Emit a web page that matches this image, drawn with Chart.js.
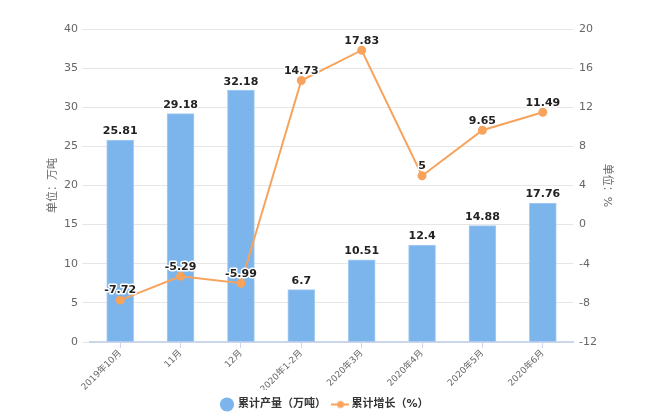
<!DOCTYPE html>
<html>
<head>
<meta charset="utf-8">
<script src="https://cdn.jsdelivr.net/npm/chart.js@4"></script>
<style>
  body { margin: 0; background: #fff; }
  #wrap { width: 650px; height: 420px; }
</style>
</head>
<body>
<div id="wrap"><canvas id="chart" width="650" height="420"></canvas></div>
<script>
const categories = ['2019年10月', '11月', '12月', '2020年1-2月', '2020年3月', '2020年4月', '2020年5月', '2020年6月'];
const output = [25.81, 29.18, 32.18, 6.7, 10.51, 12.4, 14.88, 17.76];
const growth = [-7.72, -5.29, -5.99, 14.73, 17.83, 5, 9.65, 11.49];

const FONT = 'DejaVu Sans, "Noto Sans CJK SC", sans-serif';

// legend icon for the line series: short line with a dot
function lineIcon() {
    const c = document.createElement('canvas');
    c.width = 18; c.height = 10;
    const g = c.getContext('2d');
    g.strokeStyle = '#f7a35c';
    g.lineWidth = 2;
    g.beginPath(); g.moveTo(0, 5); g.lineTo(18, 5); g.stroke();
    g.fillStyle = '#f7a35c';
    g.beginPath(); g.arc(9, 5, 3.5, 0, Math.PI * 2); g.fill();
    return c;
}
const legendLine = lineIcon();

const valueLabels = {
    id: 'valueLabels',
    afterDatasetsDraw(chart) {
        const ctx = chart.ctx;
        ctx.save();
        ctx.font = 'bold 11px ' + FONT;
        ctx.textAlign = 'center';
        ctx.textBaseline = 'bottom';
        ctx.lineJoin = 'round';
        chart.data.datasets.forEach((ds, i) => {
            const meta = chart.getDatasetMeta(i);
            meta.data.forEach((el, j) => {
                const txt = String(ds.data[j]);
                const y = el.y - (ds.type === 'line' ? 4 : 3);
                ctx.strokeStyle = '#fff';
                ctx.lineWidth = 3;
                ctx.strokeText(txt, el.x, y);
                ctx.fillStyle = '#222';
                ctx.fillText(txt, el.x, y);
            });
        });
        ctx.restore();
    }
};

new Chart(document.getElementById('chart'), {
    data: {
        labels: categories,
        datasets: [{
            type: 'bar',
            label: '累计产量（万吨）',
            data: output,
            yAxisID: 'y',
            backgroundColor: '#7cb5ec',
            borderColor: '#a9cef2',
            borderWidth: 1,
            barThickness: 27,
            order: 2
        }, {
            type: 'line',
            label: '累计增长（%）',
            data: growth,
            yAxisID: 'y1',
            borderColor: '#f7a35c',
            backgroundColor: '#f7a35c',
            borderWidth: 2,
            pointStyle: 'circle',
            pointRadius: 3.5,
            pointHoverRadius: 3.5,
            tension: 0,
            order: 1
        }]
    },
    options: {
        responsive: false,
        animation: false,
        layout: { padding: { top: 29, bottom: 0 } },
        scales: {
            x: {
                offset: true,
                grid: { drawOnChartArea: false, offset: false, tickLength: 6, color: '#ccd6eb' },
                border: { color: '#ccd6eb', width: 2 },
                ticks: { color: '#666', font: { size: 9, family: FONT }, maxRotation: 45, minRotation: 45, padding: 0 },
                afterFit: s => { s.height = 48; }
            },
            y: {
                position: 'left',
                min: 0, max: 40,
                ticks: { stepSize: 5, color: '#666', font: { size: 11, family: FONT }, padding: 4 },
                grid: { color: '#e6e6e6', tickLength: 8 },
                border: { display: false },
                title: { display: true, text: '单位：万吨', color: '#666', font: { size: 11, family: FONT }, padding: { top: 47, bottom: 4 } },
                afterFit: s => { s.width = 90; }
            },
            y1: {
                position: 'right',
                min: -12, max: 20,
                ticks: { stepSize: 4, color: '#666', font: { size: 11, family: FONT }, padding: 6 },
                grid: { drawOnChartArea: false, tickLength: 0 },
                border: { display: false },
                title: { display: true, text: '单位：%', color: '#666', font: { size: 11, family: FONT }, padding: { top: 37, bottom: 4 } },
                afterFit: s => { s.width = 77; }
            }
        },
        plugins: {
            legend: {
                position: 'bottom',
                labels: {
                    usePointStyle: true,
                    boxHeight: 10,
                    color: '#333',
                    font: { size: 11, weight: 'bold', family: FONT },
                    padding: 9,
                    generateLabels: chart => chart.data.datasets.map((ds, i) => ({
                        text: ds.label,
                        datasetIndex: i,
                        fillStyle: ds.backgroundColor,
                        strokeStyle: ds.backgroundColor,
                        lineWidth: 0,
                        fontColor: '#333',
                        pointStyle: ds.type === 'line' ? legendLine : 'circle',
                        hidden: !chart.isDatasetVisible(i)
                    }))
                }
            },
            tooltip: { enabled: false }
        }
    },
    plugins: [valueLabels]
});
</script>
</body>
</html>
